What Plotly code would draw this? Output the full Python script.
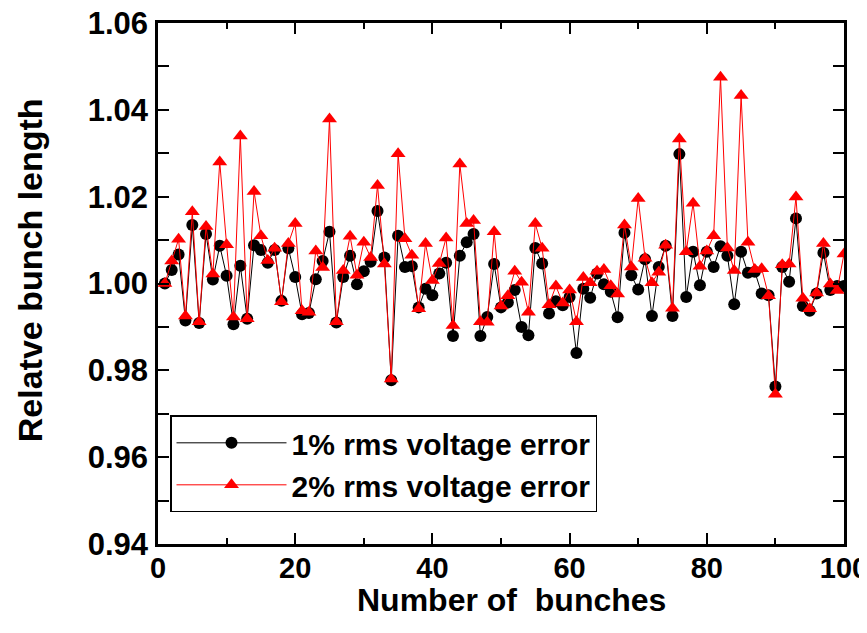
import plotly.graph_objects as go

bunches = list(range(1, 101))

err_1pct = [
    1.0000, 1.0031, 1.0067, 0.9915, 1.0135, 0.9909, 1.0114, 1.0009, 1.0087, 1.0018,
    0.9906, 1.0041, 0.9919, 1.0088, 1.0077, 1.0048, 1.0077, 0.9960, 1.0081, 1.0015,
    0.9929, 0.9932, 1.0010, 1.0052, 1.0119, 0.9910, 1.0015, 1.0064, 0.9998, 1.0028,
    1.0050, 1.0167, 1.0060, 0.9777, 1.0110, 1.0038, 1.0040, 0.9945, 0.9988, 0.9973,
    1.0023, 1.0048, 0.9879, 1.0064, 1.0095, 1.0114, 0.9879, 0.9923, 1.0045, 0.9945,
    0.9956, 0.9985, 0.9900, 0.9881, 1.0082, 1.0046, 0.9931, 0.9959, 0.9950, 0.9969,
    0.9840, 0.9988, 0.9967, 1.0023, 0.9998, 0.9981, 0.9922, 1.0117, 1.0019, 0.9986,
    1.0056, 0.9925, 1.0038, 1.0087, 0.9925, 1.0298, 0.9969, 1.0073, 0.9996, 1.0073,
    1.0038, 1.0086, 1.0064, 0.9952, 1.0073, 1.0025, 1.0027, 0.9977, 0.9973, 0.9763,
    1.0038, 1.0004, 1.0150, 0.9948, 0.9937, 0.9977, 1.0071, 0.9985, 0.9994, 0.9994,
]

err_2pct = [
    1.0000, 1.0052, 1.0102, 0.9925, 1.0165, 0.9912, 1.0131, 1.0022, 1.0280, 1.0089,
    0.9923, 1.0340, 0.9919, 1.0212, 1.0110, 1.0053, 1.0081, 0.9958, 1.0092, 1.0138,
    0.9937, 0.9934, 1.0075, 1.0037, 1.0379, 0.9912, 1.0030, 1.0109, 1.0019, 1.0095,
    1.0060, 1.0226, 1.0045, 0.9780, 1.0299, 1.0103, 1.0065, 0.9942, 1.0092, 1.0007,
    1.0046, 1.0105, 0.9903, 1.0275, 1.0138, 1.0145, 0.9912, 0.9911, 1.0119, 0.9948,
    0.9972, 1.0028, 1.0003, 0.9934, 1.0138, 1.0081, 0.9951, 0.9994, 0.9955, 0.9985,
    0.9912, 1.0014, 1.0002, 1.0028, 1.0032, 0.9995, 0.9976, 1.0135, 1.0038, 1.0196,
    1.0058, 1.0002, 1.0026, 1.0088, 0.9943, 1.0333, 1.0073, 1.0185, 1.0040, 1.0075,
    1.0110, 1.0475, 1.0082, 1.0030, 1.0433, 1.0095, 1.0032, 1.0034, 0.9972, 0.9745,
    1.0043, 1.0045, 1.0199, 0.9966, 0.9942, 0.9978, 1.0092, 0.9999, 0.9984, 1.0068,
]

series_names = ["1% rms voltage error", "2% rms voltage error"]
x_ticks = [0, 20, 40, 60, 80, 100]
y_ticks = [0.94, 0.96, 0.98, 1.00, 1.02, 1.04, 1.06]
x_title = "Number of  bunches"
y_title = "Relatve bunch length"

FONT = "Liberation Sans, Arial, sans-serif"

fig = go.Figure()
fig.add_trace(go.Scatter(
    x=bunches, y=err_1pct, mode="lines+markers", name=series_names[0],
    line=dict(color="black", width=1),
    marker=dict(symbol="circle", size=12, color="black"),
))
fig.add_trace(go.Scatter(
    x=bunches, y=err_2pct, mode="lines+markers", name=series_names[1],
    line=dict(color="#ff0000", width=1),
    marker=dict(symbol="triangle-up", size=13, color="#ff0000"),
))

axis_common = dict(
    showline=True, linecolor="black", linewidth=2.5, mirror="allticks",
    ticks="inside", ticklen=11, tickwidth=2, tickcolor="black",
    showgrid=False, zeroline=False, automargin=False,
    ticklabeloverflow="allow",
)

fig.update_xaxes(
    range=[0, 100], tickvals=x_ticks, ticktext=[str(v) for v in x_ticks],
    minor=dict(dtick=10, ticks="inside", ticklen=6, tickwidth=2, tickcolor="black"),
    ticklabelstandoff=-4,
    tickfont=dict(family=FONT, size=29, color="black", weight="bold"),
    **axis_common,
)
fig.update_yaxes(
    range=[0.94, 1.06], tickvals=y_ticks, ticktext=[f"{v:.2f}" for v in y_ticks],
    minor=dict(dtick=0.01, ticks="inside", ticklen=11, tickwidth=2, tickcolor="black"),
    ticklabelstandoff=1,
    tickfont=dict(family=FONT, size=31, color="black", weight="bold"),
    **axis_common,
)

fig.add_annotation(
    text=y_title, xref="paper", yref="paper", x=-0.1866, y=0.5255,
    xanchor="center", yanchor="middle", textangle=-90, showarrow=False,
    font=dict(family=FONT, size=34, color="black", weight="bold"),
)
fig.add_annotation(
    text=x_title, xref="paper", yref="paper", x=0.516, y=-0.1067,
    xanchor="center", yanchor="middle", showarrow=False,
    font=dict(family=FONT, size=32, color="black", weight="bold"),
)

fig.update_layout(
    width=859, height=617,
    margin=dict(l=150, r=23, t=15, b=81),
    plot_bgcolor="white", paper_bgcolor="white",
    showlegend=True,
    legend=dict(
        x=0.0175, y=0.247, xanchor="left", yanchor="top",
        bgcolor="white", bordercolor="black", borderwidth=1.5,
        font=dict(family=FONT, size=30, color="black", weight="bold"),
        itemwidth=110, tracegroupgap=0,
    ),
)

fig.write_html("out.html")
